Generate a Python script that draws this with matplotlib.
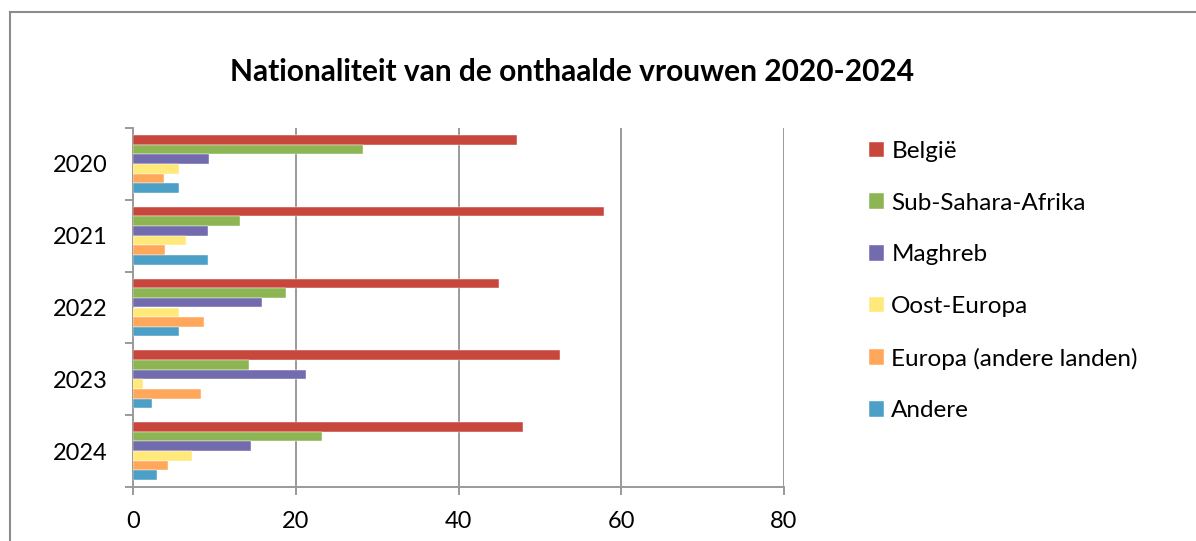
import numpy as np
import matplotlib
matplotlib.use('Agg')
import matplotlib.pyplot as plt
from matplotlib.lines import Line2D

plt.rcParams['font.family'] = ['Lato', 'DejaVu Sans']

years = ['2020', '2021', '2022', '2023', '2024']
series_names = ['België', 'Sub-Sahara-Afrika', 'Maghreb', 'Oost-Europa',
                'Europa (andere landen)', 'Andere']
belgie = [47.2, 57.9, 45.0, 52.5, 47.9]
sub_sahara = [28.3, 13.1, 18.8, 14.3, 23.2]
maghreb = [9.4, 9.2, 15.9, 21.3, 14.5]
oost_europa = [5.7, 6.5, 5.7, 1.2, 7.2]
europa_andere = [3.8, 3.9, 8.7, 8.3, 4.3]
andere = [5.7, 9.2, 5.7, 2.3, 2.9]
colors = ['#C8473D', '#8DB553', '#726BAE', '#FFE97A', '#FFA75A', '#4CA0C8']

values = [belgie, sub_sahara, maghreb, oost_europa, europa_andere, andere]

W, H = 1196, 541
fig = plt.figure(figsize=(W / 100, H / 100), dpi=100)
ax = fig.add_axes([133 / W, 1 - 487 / H, (784 - 133) / W, (487 - 128) / H])

y = np.arange(len(years))
h = 0.134
for i, (name, vals) in enumerate(zip(series_names, values)):
    ax.barh(y + (i - 2.5) * h, vals, height=h, color=colors[i], label=name,
            edgecolor='white', linewidth=0.3, zorder=3)

ax.set_xlim(0, 80)
ax.set_ylim(len(years) - 0.5, -0.5)
ax.set_xticks([0, 20, 40, 60, 80])
ax.set_yticks(y)
ax.set_yticklabels(years)
ax.set_yticks(np.arange(-0.5, len(years)), minor=True)

grid_col = '#9A9A9A'
ax.grid(axis='x', color=grid_col, linewidth=1.4, zorder=0)
for s in ['top', 'right']:
    ax.spines[s].set_visible(False)
for s in ['left', 'bottom']:
    ax.spines[s].set_color(grid_col)
    ax.spines[s].set_linewidth(1.4)

ax.tick_params(axis='x', length=6, width=1.4, color=grid_col, pad=11, labelsize=17)
ax.tick_params(axis='y', which='major', length=0, pad=18, labelsize=17)
ax.tick_params(axis='y', which='minor', length=6, width=1.4, color=grid_col)

fig.text(572 / W, 1 - 72 / H, 'Nationaliteit van de onthaalde vrouwen 2020-2024',
         ha='center', va='center', fontsize=21.5, fontweight='bold')

handles, labels = ax.get_legend_handles_labels()
leg = fig.legend(handles, labels, loc='upper left',
                 bbox_to_anchor=(857 / W, 1 - 129 / H), frameon=False,
                 fontsize=17.5, handlelength=0.62, handleheight=0.62,
                 handletextpad=0.29, labelspacing=1.26, borderpad=0)

# chart border (right and bottom sides lie outside the image)
fig.add_artist(Line2D([10 / W, 10 / W], [0, 1 - 12 / H], transform=fig.transFigure,
                      color='#8C8C8C', linewidth=1.5))
fig.add_artist(Line2D([10 / W, 1], [1 - 12 / H, 1 - 12 / H], transform=fig.transFigure,
                      color='#8C8C8C', linewidth=1.5))

fig.savefig('out.png', dpi=100)
